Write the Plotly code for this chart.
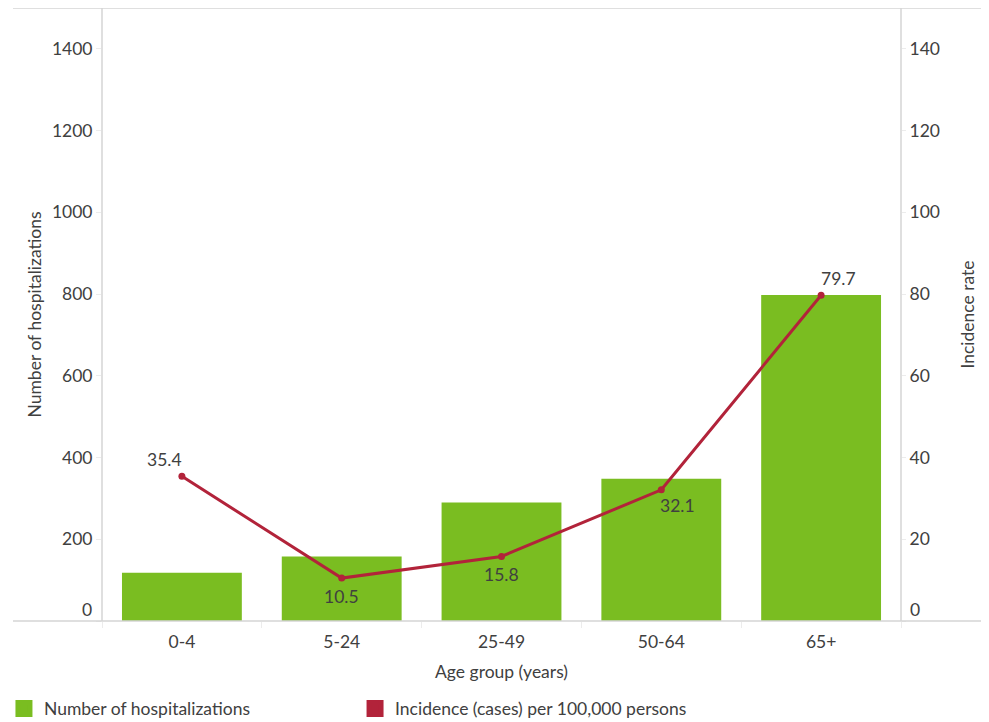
import plotly.graph_objects as go

categories = ["0-4", "5-24", "25-49", "50-64", "65+"]
hospitalizations = [118, 158, 290, 348, 798]
incidence = [35.4, 10.5, 15.8, 32.1, 79.7]
incidence_labels = ["35.4", "10.5", "15.8", "32.1", "79.7"]
left_ticks = [0, 200, 400, 600, 800, 1000, 1200, 1400]
right_ticks = [0, 20, 40, 60, 80, 100, 120, 140]

# label offsets (pixels) of the incidence data labels relative to their points
label_dx = [-17, 0, 0, 16, 17]
label_dy = [17, -18, -18, -16, 17]

GREEN = "#7abd21"
RED = "#b2233a"
TXT = "#404040"
GRID = "#d4d4d4"
FONT = "Lato"
FS = 17.5

fig = go.Figure()
fig.add_trace(go.Bar(
    x=categories, y=hospitalizations, name="Number of hospitalizations",
    marker=dict(color=GREEN, line=dict(width=0)), showlegend=False,
))
fig.add_trace(go.Scatter(
    x=categories, y=incidence, yaxis="y2", mode="lines+markers",
    line=dict(color=RED, width=3), marker=dict(color=RED, size=7),
    showlegend=False, cliponaxis=False,
))
# legend swatches (square)
fig.add_trace(go.Bar(
    x=[None], y=[None], name="Number of hospitalizations",
    marker=dict(color=GREEN, line=dict(color=GREEN, width=6)), legend="legend", showlegend=True,
))
fig.add_trace(go.Bar(
    x=[None], y=[None], yaxis="y2", name="Incidence (cases) per 100,000 persons",
    marker=dict(color=RED, line=dict(color=RED, width=6)), legend="legend2", showlegend=True,
))

for cat, val, lab, dx, dy in zip(categories, incidence, incidence_labels, label_dx, label_dy):
    fig.add_annotation(x=cat, y=val, xref="x", yref="y2", text=lab, showarrow=False,
                       xanchor="center", yanchor="middle", xshift=dx, yshift=dy,
                       font=dict(family=FONT, size=FS, color=TXT))

fig.update_layout(
    width=981, height=714,
    margin=dict(l=94, r=88, t=0, b=101, autoexpand=False),
    paper_bgcolor="white", plot_bgcolor="white",
    font=dict(family=FONT, size=FS, color=TXT),
    bargap=0.25,
    xaxis=dict(
        showline=False, showgrid=False, ticks="outside", ticklen=6, tickcolor="#ececec",
        tickson="boundaries", tickfont=dict(size=FS, color=TXT), ticklabelstandoff=8,
        automargin=False,
        title=dict(text="Age group (years)", font=dict(size=FS, color=TXT), standoff=15),
    ),
    yaxis=dict(
        range=[0, 1500], tickvals=left_ticks,
        ticktext=["" if v == 0 else str(v) for v in left_ticks],
        showgrid=False, zeroline=False, showline=False, automargin=False,
        ticks="outside", ticklen=5, tickcolor="#ececec",
        tickfont=dict(size=FS, color=TXT),
        title=dict(text="Number of hospitalizations", font=dict(size=FS, color=TXT), standoff=5),
    ),
    yaxis2=dict(
        range=[0, 150], tickvals=right_ticks, overlaying="y", side="right",
        ticktext=["" if v == 0 else str(v) for v in right_ticks],
        showgrid=False, zeroline=False, showline=False, automargin=False,
        ticks="outside", ticklen=4, tickcolor="#ececec",
        tickfont=dict(size=FS, color=TXT),
        title=dict(text="Incidence rate", font=dict(size=FS, color=TXT), standoff=22),
    ),
    legend=dict(orientation="h", x=-0.1227, y=-0.143, xanchor="left", yanchor="middle",
                font=dict(size=FS, color=TXT), bgcolor="rgba(0,0,0,0)"),
    legend2=dict(orientation="h", x=0.3167, y=-0.143, xanchor="left", yanchor="middle",
                 font=dict(size=FS, color=TXT), bgcolor="rgba(0,0,0,0)"),
)

# zero tick labels, raised above the baseline
fig.add_annotation(xref="paper", yref="paper", x=0, y=0, xanchor="right", yanchor="middle",
                   xshift=-8, yshift=12, text="0", showarrow=False, font=dict(size=FS, color=TXT))
fig.add_annotation(xref="paper", yref="paper", x=1, y=0, xanchor="left", yanchor="middle",
                   xshift=7, yshift=12, text="0", showarrow=False, font=dict(size=FS, color=TXT))

# frame lines
x_left = (13 - 102) / 799
x_right = (989 - 102) / 799
for y in (0, 1):
    fig.add_shape(type="line", xref="paper", yref="paper", x0=x_left, x1=x_right, y0=y, y1=y,
                  line=dict(color=GRID, width=1.5))
for x in (0, 1):
    fig.add_shape(type="line", xref="paper", yref="paper", x0=x, x1=x, y0=0, y1=1,
                  line=dict(color=GRID, width=1.5))

fig.write_html("out.html")
